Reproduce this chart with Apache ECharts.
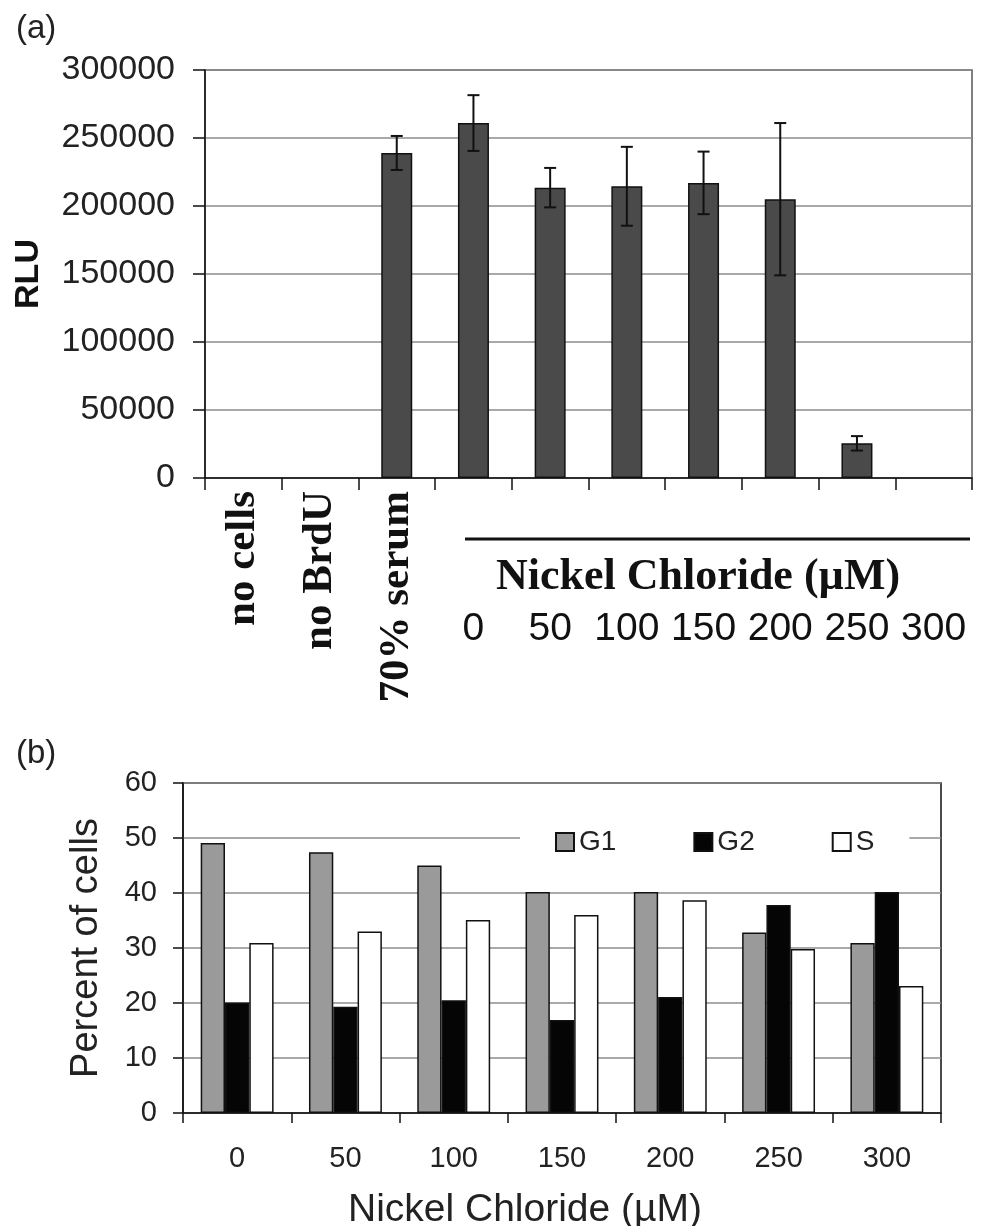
<!DOCTYPE html>
<html>
<head>
<meta charset="utf-8">
<script src="https://cdn.jsdelivr.net/npm/echarts@6/dist/echarts.min.js"></script>
<style>
html,body{margin:0;padding:0;background:#fff;}
#chart{width:983px;height:1226px;}
</style>
</head>
<body>
<div id="chart"></div>
<script>
// ---- Panel (a) data ----
const topCategories = ['no cells', 'no BrdU', '70% serum', '0', '50', '100', '150', '200', '250', '300'];
const rluValues = [0, 0, 239000, 261000, 213500, 214500, 217000, 205000, 25500, 0];
const rluErrors = [0, 0, 12500, 20500, 14500, 29000, 23000, 56000, 5300, 0];
const rluTicks = [0, 50000, 100000, 150000, 200000, 250000, 300000];

// ---- Panel (b) data ----
const doses = ['0', '50', '100', '150', '200', '250', '300'];
const g1Values = [49.1, 47.4, 45.0, 40.2, 40.2, 32.8, 30.9];
const g2Values = [20.1, 19.3, 20.5, 16.9, 21.1, 37.8, 40.2];
const sValues = [30.9, 33.0, 35.1, 36.0, 38.7, 29.8, 23.1];
const percentTicks = [0, 10, 20, 30, 40, 50, 60];

const SANS = "'Liberation Sans', Arial, sans-serif";
const SERIF = "'Liberation Serif', 'Times New Roman', serif";
const controlLabels = topCategories.slice(0, 3);

const chart = echarts.init(document.getElementById('chart'), null, {renderer: 'canvas'});

const rluBarData = rluValues.map(v => v > 0 ? v : {value: v, itemStyle: {borderWidth: 0}});

const option = {
  animation: false,
  backgroundColor: '#fff',
  title: [
    {text: '(a)', left: 11, top: 7, textStyle: {fontFamily: SANS, fontSize: 33, fontWeight: 'normal', color: '#222'}},
    {text: '(b)', left: 11, top: 732, textStyle: {fontFamily: SANS, fontSize: 33, fontWeight: 'normal', color: '#222'}}
  ],
  legend: {
    data: ['G1', 'G2', 'S'],
    left: 520,
    top: 824,
    orient: 'horizontal',
    backgroundColor: '#fff',
    padding: [4, 35, 4, 35],
    itemWidth: 18,
    itemHeight: 18,
    itemGap: 77,
    icon: 'rect',
    textStyle: {fontFamily: SANS, fontSize: 28, color: '#222'},
    selectedMode: false
  },
  grid: [
    {left: 205, top: 70, right: 11, bottom: 748, outerBoundsMode: 'none', containLabel: false,
     show: true, borderColor: '#555', borderWidth: 1.5, backgroundColor: 'transparent'},
    {left: 183, top: 783, right: 42, bottom: 113, outerBoundsMode: 'none', containLabel: false,
     show: true, borderColor: '#111', borderWidth: 1.5, backgroundColor: 'transparent'}
  ],
  xAxis: [
    {
      type: 'category', gridIndex: 0, data: topCategories,
      axisLine: {lineStyle: {color: '#111', width: 1.5}},
      axisTick: {show: true, alignWithLabel: false, length: 12, lineStyle: {color: '#111', width: 1.5}},
      axisLabel: {
        interval: 0, rotate: 90, margin: 13,
        fontFamily: SERIF, fontWeight: 'bold', fontSize: 43, color: '#111',
        formatter: v => controlLabels.indexOf(v) >= 0 ? v : ''
      }
    },
    {
      type: 'category', gridIndex: 0, data: topCategories, position: 'bottom',
      axisLine: {show: false}, axisTick: {show: false},
      axisLabel: {
        interval: 0, margin: 132,
        fontFamily: SANS, fontSize: 39, color: '#111',
        formatter: v => controlLabels.indexOf(v) >= 0 ? '' : v
      }
    },
    {
      type: 'category', gridIndex: 1, data: doses,
      axisLine: {lineStyle: {color: '#111', width: 1.5}},
      axisTick: {show: true, length: 10, lineStyle: {color: '#111', width: 1.5}},
      axisLabel: {interval: 0, margin: 31, fontFamily: SANS, fontSize: 29, color: '#222'},
      name: 'Nickel Chloride (\u00B5M)', nameLocation: 'middle', nameGap: 78,
      nameTextStyle: {fontFamily: SANS, fontSize: 39, color: '#222', padding: [0, 74, 0, 0]}
    }
  ],
  yAxis: [
    {
      type: 'value', gridIndex: 0, min: 0, max: 300000, interval: 50000,
      axisLine: {show: true, lineStyle: {color: '#111', width: 1.5}},
      axisTick: {show: true, inside: false, length: 12, lineStyle: {color: '#111', width: 1.5}},
      axisLabel: {margin: 30, fontFamily: SANS, fontSize: 34, color: '#222',
        formatter: v => rluTicks.indexOf(v) >= 0 ? String(v) : ''},
      splitLine: {show: true, lineStyle: {color: '#8c8c8c', width: 1.5}},
      name: 'RLU', nameLocation: 'middle', nameRotate: 90, nameGap: 159,
      nameTextStyle: {fontFamily: SANS, fontSize: 34, fontWeight: 'bold', color: '#111'}
    },
    {
      type: 'value', gridIndex: 1, min: 0, max: 60, interval: 10,
      axisLine: {show: true, lineStyle: {color: '#111', width: 1.5}},
      axisTick: {show: true, inside: false, length: 10, lineStyle: {color: '#111', width: 1.5}},
      axisLabel: {margin: 26, fontFamily: SANS, fontSize: 29, color: '#222',
        formatter: v => percentTicks.indexOf(v) >= 0 ? String(v) : ''},
      splitLine: {show: true, lineStyle: {color: '#8c8c8c', width: 1.5}},
      name: 'Percent of cells', nameLocation: 'middle', nameRotate: 90, nameGap: 77,
      nameTextStyle: {fontFamily: SANS, fontSize: 38, color: '#222'}
    }
  ],
  graphic: [
    {type: 'line', shape: {x1: 465, y1: 539, x2: 970, y2: 539}, style: {stroke: '#111', lineWidth: 3}, z: 10},
    {type: 'text', x: 698, y: 578, style: {text: 'Nickel Chloride (\u00B5M)', fontFamily: SERIF, fontWeight: 'bold', fontSize: 44, fill: '#111', align: 'center', verticalAlign: 'middle'}, z: 10}
  ],
  series: [
    {
      name: 'RLU', type: 'bar', xAxisIndex: 0, yAxisIndex: 0, data: rluBarData,
      barWidth: 31,
      itemStyle: {color: '#4a4a4a', borderColor: '#111', borderWidth: 1.5}
    },
    {
      name: 'RLU error', type: 'custom', xAxisIndex: 0, yAxisIndex: 0,
      data: rluValues.map((v, i) => [i, v, rluErrors[i]]),
      encode: {x: 0, y: 1},
      z: 5,
      renderItem: function (params, api) {
        const i = api.value(0), v = api.value(1), e = api.value(2);
        if (!e) return null;
        const hi = api.coord([i, v + e]);
        const lo = api.coord([i, v - e]);
        const cap = 6;
        const st = {stroke: '#111', lineWidth: 2};
        return {
          type: 'group',
          children: [
            {type: 'line', shape: {x1: hi[0], y1: hi[1], x2: lo[0], y2: lo[1]}, style: st},
            {type: 'line', shape: {x1: hi[0] - cap, y1: hi[1], x2: hi[0] + cap, y2: hi[1]}, style: st},
            {type: 'line', shape: {x1: lo[0] - cap, y1: lo[1], x2: lo[0] + cap, y2: lo[1]}, style: st}
          ]
        };
      }
    },
    {
      name: 'G1', type: 'bar', xAxisIndex: 2, yAxisIndex: 1, data: g1Values,
      barWidth: 24.3, barGap: '0%',
      itemStyle: {color: '#9a9a9a', borderColor: '#111', borderWidth: 1.5}
    },
    {
      name: 'G2', type: 'bar', xAxisIndex: 2, yAxisIndex: 1, data: g2Values,
      barWidth: 24.3, barGap: '0%',
      itemStyle: {color: '#050505', borderColor: '#111', borderWidth: 1.5}
    },
    {
      name: 'S', type: 'bar', xAxisIndex: 2, yAxisIndex: 1, data: sValues,
      barWidth: 24.3, barGap: '0%',
      itemStyle: {color: '#ffffff', borderColor: '#111', borderWidth: 1.5}
    }
  ]
};
chart.setOption(option);
</script>
</body>
</html>
